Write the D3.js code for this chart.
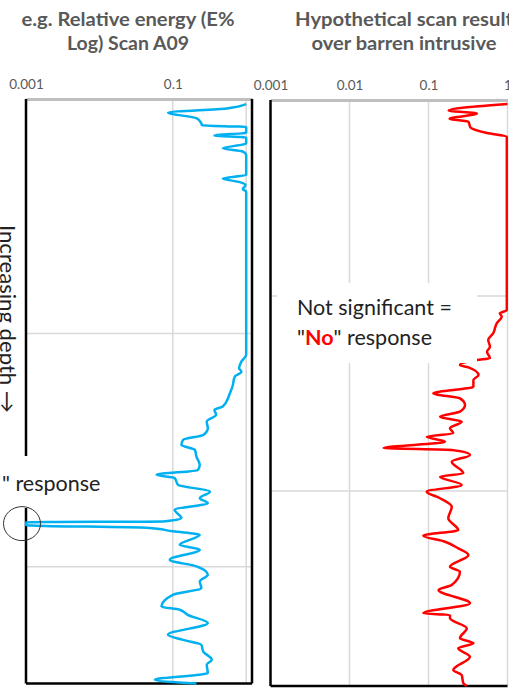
<!DOCTYPE html>
<html>
<head>
<meta charset="utf-8">
<script src="https://cdn.jsdelivr.net/npm/d3@7"></script>
<style>
  body { margin: 0; background: #fff; }
  svg { display: block; }
</style>
</head>
<body>
<div id="chart"></div>
<script>
// depth (arbitrary units, 0 = top) and relative energy
var blueScan = [
  [1.8,1.0],[3.6,0.54],[5.4,0.086],[7.8,0.21],[10.0,0.245],[10.8,0.25],[11.6,1.0],[14.0,1.0],
  [15.2,0.37],[16.1,1.0],[18.6,1.0],[20.7,0.48],[22.1,0.9],[23.6,1.0],[32.1,1.0],[33.6,0.48],
  [35.2,0.82],[36.4,0.98],[38.2,0.9],[39.3,1.0],[109.2,1.0],[112.1,0.86],[114.9,0.80],[116.4,0.86],
  [118.5,0.70],[122.8,0.65],[125.6,0.60],[127.8,0.565],[131.3,0.48],[132.8,0.37],[134.9,0.39],
  [137.8,0.29],[140.6,0.30],[143.5,0.26],[145.6,0.138],[147.8,0.131],[149.9,0.20],[152.8,0.21],
  [156.3,0.233],[158.5,0.22],[160.6,0.060],[162.0,0.106],[164.9,0.118],[167.8,0.32],[170.6,0.233],
  [172.7,0.30],[175.6,0.106],[179.1,0.131],[180.6,0.074],[180.9,0.001],[182.2,0.001],[183.3,0.044],
  [184.8,0.10],[186.3,0.233],[190.6,0.124],[192.7,0.233],[197.0,0.091],[199.8,0.21],[203.4,0.30],
  [206.3,0.233],[209.1,0.245],[212.0,0.10],[217.0,0.070],[218.4,0.124],[220.6,0.16],[224.1,0.30],
  [229.1,0.086],[231.3,0.138],[233.4,0.245],[236.3,0.26],[239.8,0.34],[242.0,0.29],[245.5,0.30],
  [248.4,0.057],[250,0.21]
];

var redScan = [
  [1.5,1.0],[4.9,0.18],[6.4,0.41],[9.2,0.185],[10.6,0.32],[13.6,0.34],[16.4,0.55],[18.3,0.98],
  [107.2,0.98],[108.9,0.80],[110.6,0.845],[114.0,0.73],[119.1,0.66],[122.6,0.57],[126.0,0.60],
  [128.6,0.55],[131.9,0.60],[132.8,0.41],[135.4,0.25],[136.6,0.32],[140.5,0.43],[143.1,0.37],
  [146.5,0.37],[149.9,0.115],[152.5,0.25],[155.9,0.29],[159.3,0.25],[161.9,0.14],[164.5,0.263],
  [167.8,0.187],[170.4,0.206],[172.2,0.095],[174.7,0.162],[178.0,0.027],[179.0,0.197],[181.5,0.335],
  [185.0,0.197],[190.9,0.276],[192.7,0.14],[196.9,0.263],[200.4,0.095],[203.7,0.14],[208.1,0.197],
  [214.0,0.178],[220.0,0.238],[222.9,0.086],[226.0,0.162],[229.4,0.238],[232.8,0.32],[238.8,0.187],
  [241.4,0.25],[248.2,0.197],[250.8,0.134],[257.6,0.335],[262.7,0.086],[263.6,0.187],[265.3,0.187],
  [270.4,0.305],[275.5,0.25],[278.1,0.37],[280.7,0.238],[285.0,0.335],[291.8,0.206],[294.4,0.263],
  [298.6,0.276],[300,0.305]
];

var leftTicks = [0.001, 0.1];
var rightTicks = [0.001, 0.01, 0.1, 1];
var leftGridX = [0.1, 1];
var rightGridX = [0.01, 0.1, 1];
var depthGrid = [100, 200];

var leftTitle = ["e.g. Relative energy (E%", "Log) Scan A09"];
var rightTitle = ["Hypothetical scan result", "over barren intrusive"];

var font = "Lato, 'Open Sans', sans-serif";
var grey = "#595959";

var svg = d3.select("#chart").append("svg")
  .attr("width", 509)
  .attr("height", 688)
  .style("font-family", font);

// scales
var xL = d3.scaleLog().domain([0.001, 1.2]).range([26, 252]);
var yL = d3.scaleLinear().domain([0, 250]).range([100, 683.5]);
var xR = d3.scaleLog().domain([0.001, 1]).range([270.5, 507.5]);
var yR = d3.scaleLinear().domain([0, 300]).range([101, 686]);

function drawPanel(x, y, gridX, ticks, data, colour, title, titleX, titleLen, frameRight) {
  var g = svg.append("g");
  var x0 = x.range()[0], x1 = x.range()[1];
  var y0 = y.range()[0], y1 = y.range()[1];

  // grid
  g.selectAll(".gx").data(gridX).enter().append("line")
    .attr("x1", function(d) { return x(d); })
    .attr("x2", function(d) { return x(d); })
    .attr("y1", y0).attr("y2", y1)
    .attr("stroke", "#d9d9d9").attr("stroke-width", 1.5);
  g.selectAll(".gy").data(depthGrid).enter().append("line")
    .attr("x1", x0).attr("x2", x1)
    .attr("y1", function(d) { return y(d); })
    .attr("y2", function(d) { return y(d); })
    .attr("stroke", "#d9d9d9").attr("stroke-width", 1.5);

  // top axis
  var ax = g.append("g")
    .attr("transform", "translate(0," + (y0 - 1) + ")")
    .call(d3.axisTop(x).tickValues(ticks).tickSize(0).tickSizeOuter(0).tickPadding(10)
      .tickFormat(function(d) { return String(d); }));
  ax.select(".domain").attr("stroke", "#bfbfbf").attr("stroke-width", 3);
  ax.selectAll("text")
    .attr("fill", grey)
    .style("font-size", "13.5px")
    .style("font-family", font);

  // frame
  g.append("line").attr("x1", x0).attr("x2", x0).attr("y1", y0 - 1).attr("y2", y1)
    .attr("stroke", "#000").attr("stroke-width", 2.5);
  g.append("line").attr("x1", x0).attr("x2", x1).attr("y1", y1).attr("y2", y1)
    .attr("stroke", "#000").attr("stroke-width", 2.5);
  if (frameRight) {
    g.append("line").attr("x1", x1).attr("x2", x1).attr("y1", y0 - 1).attr("y2", y1)
      .attr("stroke", "#000").attr("stroke-width", 2.5);
  }

  var line = d3.line()
    .x(function(d) { return x(d[1]); })
    .y(function(d) { return y(d[0]); })
    .curve(d3.curveMonotoneY);

  g.append("path")
    .datum(data)
    .attr("fill", "none")
    .attr("stroke", colour)
    .attr("stroke-width", 2.5)
    .attr("stroke-linejoin", "round")
    .attr("d", line);

  // title
  g.selectAll(".title").data(title).enter().append("text")
    .attr("x", titleX)
    .attr("y", function(d, i) { return 26 + i * 24; })
    .attr("text-anchor", "middle")
    .attr("fill", grey)
    .attr("font-weight", "bold")
    .style("font-size", "18.5px")
    .attr("textLength", function(d, i) { return titleLen[i]; })
    .attr("lengthAdjust", "spacingAndGlyphs")
    .text(function(d) { return d; });

  return g;
}

drawPanel(xL, yL, leftGridX, leftTicks, blueScan, "#00b0f0", leftTitle, 128, [213, 122], true);
drawPanel(xR, yR, rightGridX, rightTicks, redScan, "#ff0000", rightTitle, 404, [218, 185], false);

// annotation boxes
svg.append("rect").attr("x", 277).attr("y", 283).attr("width", 200).attr("height", 80).attr("fill", "#fff");
var note = svg.append("text").attr("x", 297).attr("y", 315)
  .attr("fill", "#222").style("font-size", "21.5px");
note.append("tspan").text("Not significant =");
var l2 = svg.append("text").attr("x", 297).attr("y", 345)
  .attr("fill", "#222").style("font-size", "21.5px");
l2.append("tspan").text("\"");
l2.append("tspan").attr("fill", "#ff0000").attr("font-weight", "bold").text("No");
l2.append("tspan").text("\" response");

svg.append("rect").attr("x", 0).attr("y", 456).attr("width", 115).attr("height", 52).attr("fill", "#fff");
svg.append("text").attr("x", 2).attr("y", 491)
  .attr("fill", "#222").style("font-size", "21.5px")
  .text("\" response");

svg.append("ellipse").attr("cx", 22).attr("cy", yL(181.5)).attr("rx", 18.5).attr("ry", 17)
  .attr("fill", "none").attr("stroke", "#333").attr("stroke-width", 1);

svg.append("text")
  .attr("transform", "translate(0,225) rotate(90)")
  .attr("fill", "#222")
  .style("font-size", "20.5px")
  .attr("textLength", 188)
  .attr("lengthAdjust", "spacingAndGlyphs")
  .text("Increasing depth \u2192");
</script>
</body>
</html>
